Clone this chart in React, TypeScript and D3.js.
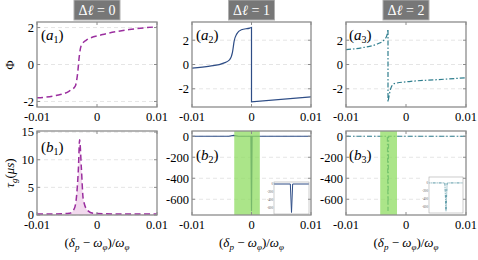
import React from 'react'
import * as d3 from 'd3'

// phase, Δℓ = 0
const det0 = [-0.01, -0.00683, -0.00462, -0.00362, -0.00322, -0.00295, -0.00267, -0.00183, 0.00095, 0.00538, 0.01]
const phase0 = [-1.8, -1.68, -1.44, -1.17, -0.45, 0.45, 0.99, 1.31, 1.62, 1.89, 2.04]

// phase, Δℓ = 1 (wraps at 0)
const det1a = [-0.01, -0.007, -0.0047, -0.0037, -0.0032, -0.0029, -0.0025, -0.0017, -0.0003, 0]
const phase1a = [-0.3, -0.14, 0.11, 0.38, 1.0, 1.96, 2.5, 2.86, 3.0, 3.05]
const det1b = [0, 0.01]
const phase1b = [-3.08, -2.67]

// phase, Δℓ = 2 (wraps at -0.003)
const det2a = [-0.01, -0.007, -0.0048, -0.0037, -0.0032, -0.003]
const phase2a = [1.22, 1.41, 1.69, 2.0, 2.37, 2.91]
const det2b = [-0.003, -0.00255, -0.002, 0.0008, 0.0052, 0.01]
const phase2b = [-3.08, -1.99, -1.58, -1.39, -1.25, -1.09]

// group delay
const detT0 = [-0.01, -0.007, -0.0046, -0.0038, -0.0034, -0.0031, -0.0029, -0.0026, -0.0023, -0.00155, -0.0005, 0.003, 0.01]
const tau0 = [0.2, 0.2, 0.3, 1.1, 3.5, 8.4, 13.6, 8.4, 2.9, 0.8, 0.3, 0.2, 0.2]
const detT1 = [-0.01, -0.0038, -0.003, -0.0022, -0.0001, 0, 0.0001, 0.01]
const tau1 = [0, 0, 8, 0, 0, -712, 0, 0]
const detT2 = [-0.01, -0.0031, -0.003, -0.0029, 0.01]
const tau2 = [0, 0, -712, 0, 0]

const band1 = [-0.0029, 0.0014]
const band2 = [-0.0043, -0.0015]

const xTicks = [-0.01, 0, 0.01]
const xTickLabels = ['-0.01', '0', '0.01']
const phaseTicks0 = [-2, 0, 2]
const phaseTicks = [-2, 0, 2]
const tauTicks0 = [0, 5, 10, 15]
const tauTicks = [-600, -400, -200, 0]
const titles = ['0', '1', '2']

const FONT = 'Liberation Serif, DejaVu Serif, serif'
const BOX = '#8c8c8c'
const PURPLE = '#9b2f9f'
const BLUE = '#2e4d86'
const TEAL = '#2f7e8e'
const GREEN = '#8fdc62'

const COLS = [[37, 157], [192, 311], [346, 466]]
const ROWS = [[22, 107], [131, 215]]

const zip = (xs: number[], ys: number[]) => xs.map((x, i) => [x, ys[i]] as [number, number])

const Frame = ({ xs, ys, yTicks, fs = 12.5, tick = 3 }: any) => {
  const [l, r] = xs.range()
  const [b, t] = ys.range()
  return (
    <g>
      <rect x={l} y={t} width={r - l} height={b - t} fill="none" stroke={BOX} strokeWidth={1.3} />
      {xTicks.map(v => (
        <g key={'x' + v}>
          <line x1={xs(v)} x2={xs(v)} y1={b} y2={b - tick} stroke={BOX} />
          <line x1={xs(v)} x2={xs(v)} y1={t} y2={t + tick} stroke={BOX} />
        </g>
      ))}
      {yTicks.map((v: number) => (
        <g key={'y' + v}>
          <line x1={l} x2={l + tick} y1={ys(v)} y2={ys(v)} stroke={BOX} />
          <line x1={r} x2={r - tick} y1={ys(v)} y2={ys(v)} stroke={BOX} />
          <text x={l - 3} y={ys(v)} dy="0.35em" textAnchor="end" fontSize={fs}>{v}</text>
        </g>
      ))}
    </g>
  )
}

const Grid = ({ xs, ys, yTicks }: any) => {
  const [l, r] = xs.range()
  return (
    <g>
      {yTicks.map((v: number) => (
        <line key={v} x1={l} x2={r} y1={ys(v)} y2={ys(v)} stroke="#dedede" strokeWidth={0.8} strokeDasharray="4,3" />
      ))}
    </g>
  )
}

const XLabels = ({ xs, y }: any) => (
  <g>
    {xTicks.map((v, i) => (
      <text key={v} x={xs(v)} y={y} textAnchor="middle" fontSize={12.5}>{xTickLabels[i]}</text>
    ))}
  </g>
)

const PanelLabel = ({ x, y, letter, n }: any) => (
  <text x={x} y={y} fontSize={15}>
    (<tspan fontStyle="italic">{letter}</tspan>
    <tspan fontSize={10} dy={3}>{n}</tspan>
    <tspan dy={-3}>)</tspan>
  </text>
)

const XTitle = ({ x, y }: any) => (
  <text x={x} y={y} textAnchor="middle" fontSize={13}>
    (<tspan fontStyle="italic">δ</tspan><tspan fontSize={9} dy={3} fontStyle="italic">p</tspan>
    <tspan dy={-3}> − </tspan><tspan fontStyle="italic">ω</tspan><tspan fontSize={9} dy={3} fontStyle="italic">φ</tspan>
    <tspan dy={-3}>)/</tspan><tspan fontStyle="italic">ω</tspan><tspan fontSize={9} dy={3} fontStyle="italic">φ</tspan>
  </text>
)

const Inset = ({ box, xDomain, yDomain, pts, color, dash, width = 1 }: any) => {
  const [l, r, t, b] = box
  const xs = d3.scaleLinear().domain(xDomain).range([l, r])
  const ys = d3.scaleLinear().domain(yDomain).range([b, t])
  const ln = d3.line().x(d => xs(d[0])).y(d => ys(d[1]))
  return (
    <g>
      <rect x={l - 8} y={t} width={r - l + 8} height={b - t} fill="white" />
      <clipPath id={'ic' + l}><rect x={l} y={t} width={r - l} height={b - t} /></clipPath>
      <path d={ln(pts) || ''} fill="none" stroke={color} strokeWidth={width} strokeDasharray={dash} clipPath={`url(#ic${l})`} />
      <rect x={l} y={t} width={r - l} height={b - t} fill="none" stroke="#aaa" strokeWidth={0.6} />
      {tauTicks.map(v => (
        <text key={v} x={l - 1} y={ys(v)} dy="0.35em" textAnchor="end" fontSize={3.2} fill="#555">{v}</text>
      ))}
    </g>
  )
}

export default function App() {
  const xsc = COLS.map(c => d3.scaleLinear().domain([-0.01, 0.01]).range(c))
  const ysA0 = d3.scaleLinear().domain([-2.3, 2.3]).range([ROWS[0][1], ROWS[0][0]])
  const ysA = d3.scaleLinear().domain([-3.5, 3.5]).range([ROWS[0][1], ROWS[0][0]])
  const ysB0 = d3.scaleLinear().domain([0, 15.2]).range([ROWS[1][1], ROWS[1][0]])
  const ysB = d3.scaleLinear().domain([-750, 50]).range([ROWS[1][1], ROWS[1][0]])

  const lineOf = (xs: any, ys: any, curve: any = d3.curveMonotoneX) =>
    d3.line().x(d => xs(d[0])).y(d => ys(d[1])).curve(curve)

  const joined = (xs: any, ys: any, a: [number, number][], b: [number, number][]) => {
    const ln = lineOf(xs, ys)
    return (ln(a) || '') + (ln(b) || '').replace(/^M/, 'L')
  }

  const area0 = d3.area().x(d => xsc[0](d[0])).y0(ysB0(0)).y1(d => ysB0(d[1])).curve(d3.curveMonotoneX)

  const bandRect = (xs: any, band: number[]) => (
    <rect x={xs(band[0])} y={ROWS[1][0]} width={xs(band[1]) - xs(band[0])} height={ROWS[1][1] - ROWS[1][0]} fill={GREEN} opacity={0.75} />
  )

  return (
    <svg width={478} height={260} style={{ position: 'absolute', left: 0, top: 0, background: 'white', fontFamily: FONT }}>
      {COLS.map((c, i) => (
        <g key={'t' + i}>
          <rect x={(c[0] + c[1]) / 2 - 23} y={0} width={46} height={20} fill="#777" stroke="#b0b0b0" strokeWidth={1} />
          <text x={(c[0] + c[1]) / 2} y={15} textAnchor="middle" fontSize={14} fill="white">
            Δ<tspan fontStyle="italic">ℓ</tspan> = {titles[i]}
          </text>
        </g>
      ))}

      {/* row a: phase */}
      <Grid xs={xsc[0]} ys={ysA0} yTicks={phaseTicks0} />
      <Grid xs={xsc[1]} ys={ysA} yTicks={phaseTicks} />
      <Grid xs={xsc[2]} ys={ysA} yTicks={phaseTicks} />
      <path d={lineOf(xsc[0], ysA0)(zip(det0, phase0)) || ''} fill="none" stroke={PURPLE} strokeWidth={1.5} strokeDasharray="6,3.5" />
      <path d={joined(xsc[1], ysA, zip(det1a, phase1a), zip(det1b, phase1b))} fill="none" stroke={BLUE} strokeWidth={1.2} />
      <path d={joined(xsc[2], ysA, zip(det2a, phase2a), zip(det2b, phase2b))} fill="none" stroke={TEAL} strokeWidth={1.2} strokeDasharray="5,2,1.5,2" />
      <Frame xs={xsc[0]} ys={ysA0} yTicks={phaseTicks0} />
      <Frame xs={xsc[1]} ys={ysA} yTicks={phaseTicks} />
      <Frame xs={xsc[2]} ys={ysA} yTicks={phaseTicks} />
      {xsc.map((xs, i) => <XLabels key={'xa' + i} xs={xs} y={121} />)}
      <PanelLabel x={41} y={40} letter="a" n="1" />
      <PanelLabel x={196} y={40} letter="a" n="2" />
      <PanelLabel x={349} y={40} letter="a" n="3" />

      {/* row b: group delay */}
      <Grid xs={xsc[0]} ys={ysB0} yTicks={tauTicks0} />
      <Grid xs={xsc[1]} ys={ysB} yTicks={tauTicks} />
      <Grid xs={xsc[2]} ys={ysB} yTicks={tauTicks} />
      <path d={area0(zip(detT0, tau0)) || ''} fill="#f2d9ee" />
      <path d={lineOf(xsc[0], ysB0)(zip(detT0, tau0)) || ''} fill="none" stroke={PURPLE} strokeWidth={1.5} strokeDasharray="6,3.5" />
      <path d={lineOf(xsc[1], ysB, d3.curveLinear)(zip(detT1, tau1)) || ''} fill="none" stroke={BLUE} strokeWidth={1.2} />
      <path d={lineOf(xsc[2], ysB, d3.curveLinear)(zip(detT2, tau2)) || ''} fill="none" stroke={TEAL} strokeWidth={1.2} strokeDasharray="5,2,1.5,2" />
      {bandRect(xsc[1], band1)}
      {bandRect(xsc[2], band2)}
      <Inset box={[274, 309, 182, 214]} xDomain={[-0.0015, 0.0015]} yDomain={[-750, 50]} pts={zip(detT1, tau1)} color={BLUE} width={1} />
      <Inset box={[429, 463, 177, 213]} xDomain={[-0.0045, -0.0015]} yDomain={[-760, 150]} pts={zip(detT2, tau2)} color={TEAL} width={0.8} dash="3,1,1,1" />
      <Frame xs={xsc[0]} ys={ysB0} yTicks={tauTicks0} />
      <Frame xs={xsc[1]} ys={ysB} yTicks={tauTicks} />
      <Frame xs={xsc[2]} ys={ysB} yTicks={tauTicks} />
      {xsc.map((xs, i) => <XLabels key={'xb' + i} xs={xs} y={229} />)}
      <PanelLabel x={41} y={152} letter="b" n="1" />
      <PanelLabel x={196} y={160} letter="b" n="2" />
      <PanelLabel x={349} y={160} letter="b" n="3" />

      {xsc.map((xs, i) => <XTitle key={'xt' + i} x={(COLS[i][0] + COLS[i][1]) / 2} y={247} />)}

      <text transform="translate(14,65) rotate(-90)" textAnchor="middle" fontSize={13}>Φ</text>
      <text transform="translate(14,173) rotate(-90)" textAnchor="middle" fontSize={13}>
        <tspan fontStyle="italic">τ</tspan><tspan fontSize={9} dy={3} fontStyle="italic">g</tspan>
        <tspan dy={-3}>(</tspan><tspan fontStyle="italic">μs</tspan>)
      </text>
    </svg>
  )
}
